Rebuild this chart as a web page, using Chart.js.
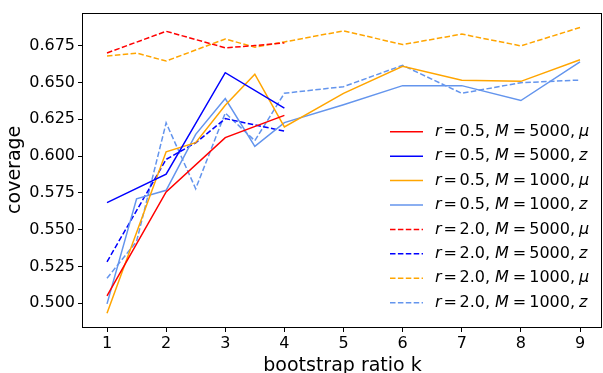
<!DOCTYPE html>
<html>
<head>
<meta charset="utf-8">
<script src="https://cdn.jsdelivr.net/npm/chart.js@4.4.0/dist/chart.umd.min.js"></script>
<style>
  html, body { margin: 0; padding: 0; background: #fff; }
  #wrap { width: 603px; height: 373px; }
</style>
</head>
<body>
<div id="wrap"><canvas id="myChart" width="603" height="373"></canvas></div>
<script>
// bootstrap ratio k (x positions of the samples)
const kVals = [1, 1.5, 2, 2.5, 3, 3.5, 4, 5, 6, 7, 8, 9];

// coverage values (null = no sample at that k)
const r05_M5000_mu = [0.505, null, 0.5756, null, 0.6125, null, 0.6276, null, null, null, null, null];
const r05_M5000_z  = [0.5684, null, 0.5877, null, 0.6566, null, 0.6325, null, null, null, null, null];
const r05_M1000_mu = [0.4932, null, 0.6029, 0.6091, 0.6345, 0.6556, 0.6198, 0.6426, 0.661, 0.6515, 0.6507, 0.6654];
const r05_M1000_z  = [0.4996, 0.571, 0.5767, 0.6147, 0.639, 0.6066, 0.6227, 0.6348, 0.6478, 0.6478, 0.6377, 0.6639];
const r20_M5000_mu = [0.670, null, 0.6847, null, 0.6735, 0.675, 0.6768, null, null, null, null, null];
const r20_M5000_z  = [0.5282, null, 0.5977, 0.609, 0.6254, null, 0.6169, null, null, null, null, null];
const r20_M1000_mu = [0.6679, 0.6699, 0.6645, null, 0.6795, 0.6739, 0.6775, 0.685, 0.6757, 0.6828, 0.6748, 0.6873];
const r20_M1000_z  = [0.517, 0.542, 0.6225, 0.5778, 0.6292, 0.6104, 0.6426, 0.6471, 0.6616, 0.6426, 0.6498, 0.6516];

// legend pieces
const rLabels = ['0.5', '0.5', '0.5', '0.5', '2.0', '2.0', '2.0', '2.0'];
const mLabels = ['5000', '5000', '1000', '1000', '5000', '5000', '1000', '1000'];
const statLabels = ['μ', 'z', 'μ', 'z', 'μ', 'z', 'μ', 'z'];

// tick labels
const xTicks = [1, 2, 3, 4, 5, 6, 7, 8, 9];
const yTicks = [0.500, 0.525, 0.550, 0.575, 0.600, 0.625, 0.650, 0.675];

const series = [r05_M5000_mu, r05_M5000_z, r05_M1000_mu, r05_M1000_z,
                r20_M5000_mu, r20_M5000_z, r20_M1000_mu, r20_M1000_z];
const colores = ['#ff0000', '#0000ff', '#ffa500', '#6495ed',
                 '#ff0000', '#0000ff', '#ffa500', '#6495ed'];
const DASH = [5.5, 2.4];

function puntos(arr) {
    return kVals.map((k, i) => ({ x: k, y: arr[i] })).filter(p => p.y !== null);
}

const datos = {
    datasets: series.map((s, i) => ({
        label: 'r = ' + rLabels[i] + ', M = ' + mLabels[i] + ', ' + statLabels[i],
        parts: [rLabels[i], mLabels[i], statLabels[i]],
        data: puntos(s),
        borderColor: colores[i],
        backgroundColor: colores[i],
        borderWidth: 1.5,
        borderDash: i >= 4 ? DASH : [],
        pointRadius: 0,
        tension: 0,
        fill: false
    }))
};

const FONT = "'DejaVu Sans', sans-serif";

// marco negro alrededor del area del grafico
const marco = {
    id: 'marco',
    afterDatasetsDraw(chart) {
        const a = chart.chartArea;
        const ctx = chart.ctx;
        ctx.save();
        ctx.strokeStyle = '#000';
        ctx.lineWidth = 1;
        ctx.strokeRect(Math.round(a.left) - 0.5, Math.round(a.top) + 0.5,
            Math.round(a.right - a.left), Math.round(a.bottom - a.top));
        ctx.restore();
    }
};

// leyenda dentro del area, con texto estilo mathtext
const leyenda = {
    id: 'leyenda',
    afterDraw(chart) {
        const ctx = chart.ctx;
        const x0 = 390, x1 = 423, tx = 435, y0 = 131.7, dy = 24.43;
        const fN = '16px ' + FONT;
        const fI = 'italic 16px ' + FONT;
        ctx.save();
        ctx.textBaseline = 'middle';
        chart.data.datasets.forEach((ds, i) => {
            const y = y0 + i * dy;
            ctx.strokeStyle = ds.borderColor;
            ctx.lineWidth = 1.5;
            ctx.setLineDash(ds.borderDash);
            ctx.beginPath();
            ctx.moveTo(x0, y);
            ctx.lineTo(x1, y);
            ctx.stroke();
            ctx.setLineDash([]);
            ctx.fillStyle = '#000';
            const trozos = [
                [fI, 'r', 2], [fN, '=', 2.5], [fN, ds.parts[0] + ',', 5],
                [fI, 'M', 4], [fN, '=', 3], [fN, ds.parts[1] + ',', 4],
                [fI, ds.parts[2], 0]
            ];
            let x = tx;
            trozos.forEach(t => {
                ctx.font = t[0];
                ctx.fillText(t[1], x, y);
                x += ctx.measureText(t[1]).width + t[2];
            });
        });
        ctx.restore();
    }
};

new Chart(document.getElementById('myChart'), {
    type: 'line',
    data: datos,
    options: {
        responsive: false,
        animation: false,
        devicePixelRatio: 1,
        layout: { padding: { top: 8, right: 1, left: 0, bottom: 0 } },
        plugins: {
            legend: { display: false },
            tooltip: { enabled: false }
        },
        scales: {
            x: {
                type: 'linear',
                position: 'bottom',
                min: 0.594,
                max: 9.372,
                afterBuildTicks: s => { s.ticks = xTicks.map(v => ({ value: v })); },
                afterFit: s => { s.height = 46; },
                ticks: {
                    color: '#000',
                    font: { family: FONT, size: 16 },
                    padding: 2,
                    maxRotation: 0,
                    callback: v => String(v)
                },
                grid: { drawOnChartArea: false, drawTicks: true, tickLength: 5, color: '#000' },
                border: { display: false },
                title: {
                    display: true,
                    text: 'bootstrap ratio k',
                    color: '#000',
                    font: { family: FONT, size: 19, lineHeight: 0.74 },
                    padding: { top: 0, bottom: 0 }
                }
            },
            y: {
                type: 'linear',
                min: 0.4839,
                max: 0.6974,
                afterBuildTicks: s => { s.ticks = yTicks.map(v => ({ value: v })); },
                afterFit: s => { s.width = 83; },
                ticks: {
                    color: '#000',
                    font: { family: FONT, size: 16 },
                    padding: 3,
                    callback: v => v.toFixed(3)
                },
                grid: { drawOnChartArea: false, drawTicks: true, tickLength: 5, color: '#000' },
                border: { display: false },
                title: {
                    display: true,
                    text: 'coverage',
                    color: '#000',
                    font: { family: FONT, size: 19 },
                    padding: { top: 4, bottom: 0 }
                }
            }
        }
    },
    plugins: [marco, leyenda]
});
</script>
</body>
</html>
